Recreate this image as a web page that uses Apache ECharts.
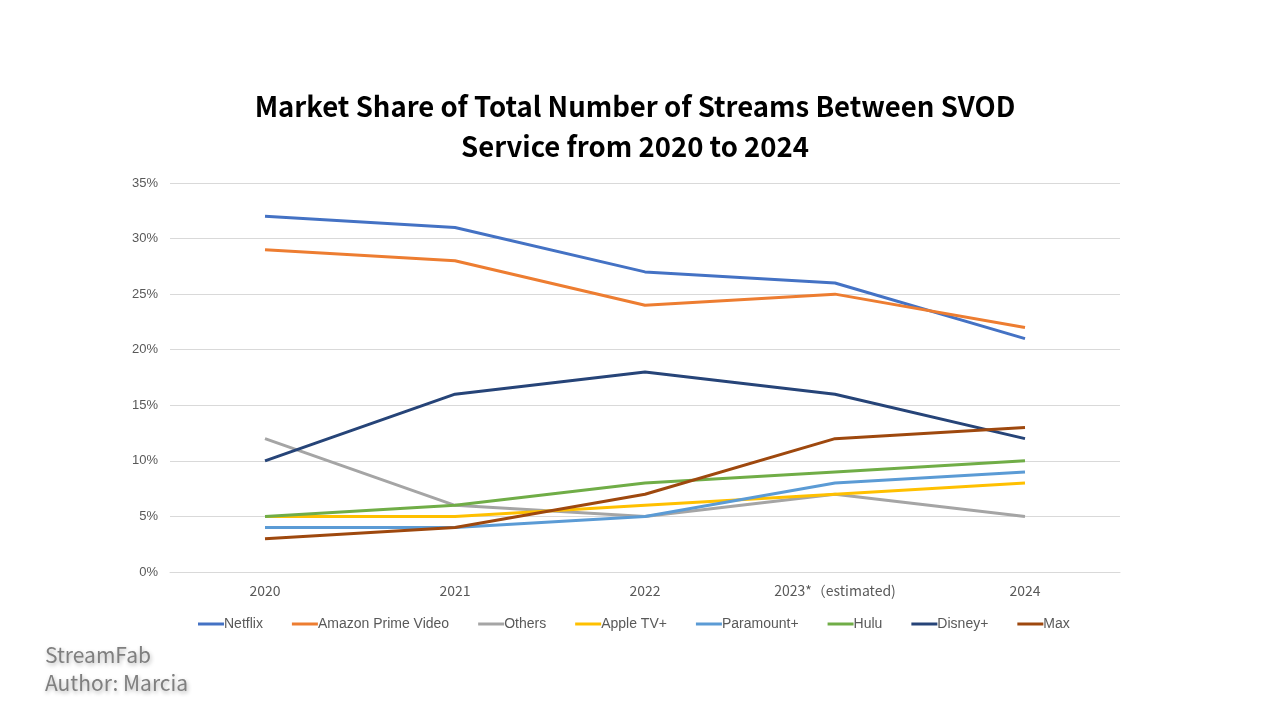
<!DOCTYPE html>
<html><head><meta charset="utf-8">
<script src="https://cdn.jsdelivr.net/npm/echarts@6/dist/echarts.min.js"></script>
<style>html,body{margin:0;padding:0;background:#fff}#c{width:1280px;height:720px}</style>
</head><body><div id="c"></div>
<script>
const categories = ['2020', '2021', '2022', '2023*（estimated)', '2024'];
const netflix = [32, 31, 27, 26, 21];
const amazon = [29, 28, 24, 25, 22];
const others = [12, 6, 5, 7, 5];
const appleTV = [5, 5, 6, 7, 8];
const paramount = [4, 4, 5, 8, 9];
const hulu = [5, 6, 8, 9, 10];
const disney = [10, 16, 18, 16, 12];
const max = [3, 4, 7, 12, 13];
const seriesNames = ['Netflix', 'Amazon Prime Video', 'Others', 'Apple TV+', 'Paramount+', 'Hulu', 'Disney+', 'Max'];
const seriesData = [netflix, amazon, others, appleTV, paramount, hulu, disney, max];
const colors = ['#4472C4', '#ED7D31', '#A5A5A5', '#FFC000', '#5B9BD5', '#70AD47', '#264478', '#9E480E'];

const chart = echarts.init(document.getElementById('c'));
chart.setOption({
  animation: false,
  color: colors,
  title: {
    text: 'Market Share of Total Number of Streams Between SVOD\nService from 2020 to 2024',
    left: 630, top: 82, textAlign: 'center',
    textStyle: { fontFamily: 'Noto Sans CJK SC', fontSize: 27.5, fontWeight: 'bold', color: '#000', lineHeight: 40 }
  },
  graphic: [{
    type: 'text', left: 45, top: 641,
    style: { text: 'StreamFab\nAuthor: Marcia', fontFamily: 'Noto Sans CJK SC', fontSize: 21, lineHeight: 28, fill: '#7f7f7f',
      textShadowColor: 'rgba(0,0,0,0.3)', textShadowBlur: 4, textShadowOffsetX: 1, textShadowOffsetY: 2 }
  }],
  legend: {
    bottom: 84, left: 193,
    itemWidth: 26, itemHeight: 3, itemGap: 29,
    icon: 'rect',
    textStyle: { fontFamily: 'Liberation Sans', fontSize: 14, color: '#595959', padding: [0, 0, 0, -5] },
    data: seriesNames
  },
  grid: { left: 170, right: 160, top: 183, bottom: 148 },
  xAxis: {
    type: 'category', data: categories, boundaryGap: true,
    axisLine: { show: true, lineStyle: { color: '#d9d9d9' } },
    axisTick: { show: false },
    axisLabel: { color: '#595959', fontSize: 14, margin: 12, fontFamily: 'Noto Sans CJK SC' }
  },
  yAxis: {
    type: 'value', min: 0, max: 35, interval: 5,
    axisLine: { show: false }, axisTick: { show: false },
    splitLine: { lineStyle: { color: '#d9d9d9' } },
    axisLabel: { formatter: '{value}%', color: '#595959', fontSize: 13, margin: 12, fontFamily: 'Liberation Sans' }
  },
  series: seriesNames.map((n, i) => ({
    name: n, type: 'line', data: seriesData[i], showSymbol: false, symbol: 'none',
    lineStyle: { width: 3, color: colors[i] }, itemStyle: { color: colors[i] }
  }))
});
</script></body></html>
